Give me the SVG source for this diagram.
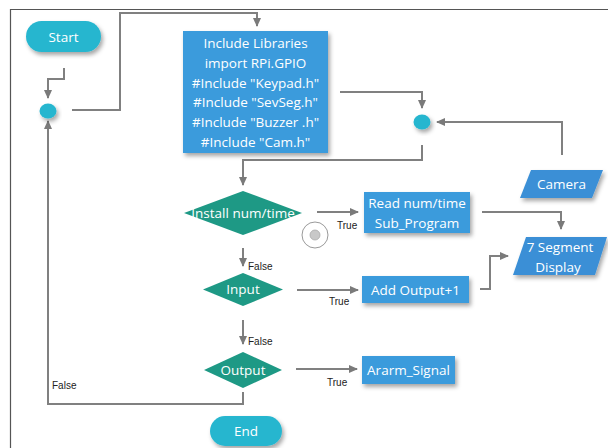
<svg xmlns="http://www.w3.org/2000/svg" width="608" height="448" viewBox="0 0 608 448">
<defs>
<marker id="ah" markerWidth="10" markerHeight="10" refX="8" refY="5" orient="auto" markerUnits="userSpaceOnUse">
<path d="M0,1 L9,5 L0,9 Z" fill="#7a7a7a"/>
</marker>
<filter id="sh" x="-20%" y="-20%" width="150%" height="160%">
<feDropShadow dx="2" dy="3" stdDeviation="2" flood-color="#000" flood-opacity="0.35"/>
</filter>
<style>
.ln{fill:none;stroke:#808080;stroke-width:2}
.ar{marker-end:url(#ah)}
.box{fill:#3a9bdc;filter:url(#sh)}
.par{fill:#3a8fd6;filter:url(#sh)}
.pill{fill:#27b6cf;filter:url(#sh)}
.dia{fill:#1e9985}
.wt{font-family:"Open Sans","Noto Sans",sans-serif;font-size:13.5px;fill:#fff;text-anchor:middle}
.lb{font-family:"Liberation Sans",Arial,sans-serif;font-size:10px;fill:#222}
</style>
</defs>
<rect x="0" y="0" width="608" height="448" fill="#fff"/>
<path d="M10.5,448 V9.5 H608" fill="none" stroke="#555" stroke-width="1.2"/>

<g id="connectors">
<path class="ln ar" d="M64,68 V79 H48 V98"/>
<path class="ln ar" d="M72,110 H120 V13 H257 V26"/>
<path class="ln ar" d="M340,92 H422 V108"/>
<path class="ln ar" d="M562,155 V122 H437"/>
<path class="ln ar" d="M422,145 V160 H243 V185"/>
<path class="ln ar" d="M317,212 H358"/>
<path class="ln ar" d="M482,212 H561 V229"/>
<path class="ln ar" d="M243,248 V266"/>
<path class="ln ar" d="M297,290 H358"/>
<path class="ln ar" d="M480,289 H490 V256 H508"/>
<path class="ln ar" d="M243,320 V344"/>
<path class="ln ar" d="M296,369 H357"/>
<path class="ln ar" d="M243,392 V404 H48 V121"/>
<text class="lb" x="337" y="229">True</text>
<text class="lb" x="248" y="270">False</text>
<text class="lb" x="329" y="305">True</text>
<text class="lb" x="248" y="345">False</text>
<text class="lb" x="327" y="386">True</text>
<text class="lb" x="52" y="389">False</text>
</g>

<g id="start">
<rect class="pill" x="26" y="21" width="75" height="31" rx="15.5"/>
<text class="wt" x="63.5" y="41.5">Start</text>
</g>

<g id="merge1">
<ellipse cx="48" cy="111" rx="8.5" ry="7.5" fill="#27b6cf" filter="url(#sh)"/>
</g>

<g id="libraries">
<rect class="box" x="183" y="31" width="145" height="122"/>
<text class="wt" x="255.5" y="48">Include Libraries</text>
<text class="wt" x="255.5" y="68">import RPi.GPIO</text>
<text class="wt" x="255.5" y="88">#Include "Keypad.h"</text>
<text class="wt" x="255.5" y="107">#Include "SevSeg.h"</text>
<text class="wt" x="255.5" y="127">#Include "Buzzer .h"</text>
<text class="wt" x="255.5" y="147">#Include "Cam.h"</text>
</g>

<g id="merge2">
<ellipse cx="422" cy="122" rx="8.5" ry="7.5" fill="#27b6cf" filter="url(#sh)"/>
</g>

<g id="camera">
<polygon class="par" points="531,170 603,170 592,198 520,198"/>
<text class="wt" x="561.5" y="189">Camera</text>
</g>

<g id="install">
<polygon class="dia" points="243,191 302,213 243,235 184,213"/>
<text class="wt" x="243" y="217.5">Install num/time</text>
</g>

<g id="marker-circle">
<circle cx="315" cy="235" r="13" fill="#fff" stroke="#9a9a9a" stroke-width="1"/>
<circle cx="315" cy="235" r="5" fill="#c8c8c8" stroke="#aaa" stroke-width="0.8"/>
</g>

<g id="read">
<rect class="box" x="364" y="192" width="106" height="41"/>
<text class="wt" x="417" y="208">Read num/time</text>
<text class="wt" x="417" y="228">Sub_Program</text>
</g>

<g id="segment">
<polygon class="par" points="526,237 607,237 595,275 513,275"/>
<text class="wt" x="560" y="252">7 Segment</text>
<text class="wt" x="558" y="272">Display</text>
</g>

<g id="input">
<polygon class="dia" points="243,273 283,289.5 243,306 203,289.5"/>
<text class="wt" x="243" y="294">Input</text>
</g>

<g id="addout">
<rect class="box" x="362" y="276" width="107" height="27"/>
<text class="wt" x="415.5" y="294.5">Add Output+1</text>
</g>

<g id="output">
<polygon class="dia" points="243,352 282,370 243,388 204,370"/>
<text class="wt" x="243" y="374.5">Output</text>
</g>

<g id="alarm">
<rect class="box" x="362" y="356" width="93" height="28"/>
<text class="wt" x="408.5" y="375">Ararm_Signal</text>
</g>

<g id="end">
<rect class="pill" x="210" y="416" width="72" height="30" rx="15"/>
<text class="wt" x="246" y="435.5">End</text>
</g>
</svg>
